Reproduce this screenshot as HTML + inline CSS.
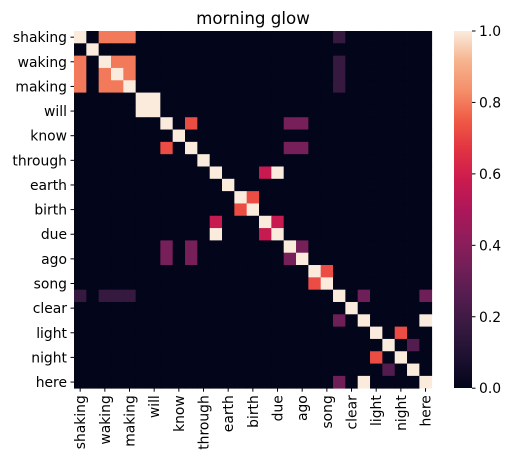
<!DOCTYPE html>
<html><head><meta charset="utf-8"><style>
body{margin:0;background:#fff;font-family:"DejaVu Sans",sans-serif}
</style></head><body>
<svg id="chart" width="513" height="463" xmlns="http://www.w3.org/2000/svg" font-family="DejaVu Sans, sans-serif">
<defs>
<linearGradient id="rocket" x1="0" y1="1" x2="0" y2="0">
<stop offset="0" stop-color="#03051a"/><stop offset="0.083" stop-color="#1c1030"/><stop offset="0.167" stop-color="#35193e"/>
<stop offset="0.25" stop-color="#521c4f"/><stop offset="0.333" stop-color="#701f57"/><stop offset="0.417" stop-color="#8f1d5b"/>
<stop offset="0.5" stop-color="#ad1759"/><stop offset="0.583" stop-color="#cb1b4f"/><stop offset="0.667" stop-color="#e13342"/>
<stop offset="0.75" stop-color="#f05a45"/><stop offset="0.833" stop-color="#f48f6a"/><stop offset="0.917" stop-color="#f6b48f"/>
<stop offset="1" stop-color="#faebdd"/></linearGradient>
</defs>
<text x="253" y="24" font-size="16.7" text-anchor="middle" fill="#000">morning glow</text>
<g id="cells"></g>
<g id="axes"></g>
<rect x="454" y="31" width="18" height="357" fill="url(#rocket)"/>
<g id="cbar"></g>
</svg>
<script>
const labels = ["shaking","","waking","","making","","will","","know","","through","","earth","","birth","","due","","ago","","song","","clear","","light","","night","","here"];
const cbTicks = [0,0.2,0.4,0.6,0.8,1.0];
// sparse entries [row, col, value]
const entries = [
[0,0,1],[0,2,0.8],[0,3,0.8],[0,4,0.8],[0,21,0.17],
[1,1,1],
[2,0,0.8],[2,2,1],[2,3,0.8],[2,4,0.8],[2,21,0.17],
[3,0,0.8],[3,2,0.8],[3,3,1],[3,4,0.8],[3,21,0.17],
[4,0,0.8],[4,2,0.8],[4,3,0.8],[4,4,1],[4,21,0.17],
[5,5,1],[5,6,1],[6,5,1],[6,6,1],
[7,7,1],[7,9,0.72],[7,17,0.35],[7,18,0.35],
[8,8,1],
[9,7,0.72],[9,9,1],[9,17,0.35],[9,18,0.35],
[10,10,1],
[11,11,1],[11,15,0.57],[11,16,1],
[12,12,1],
[13,13,1],[13,14,0.72],[14,13,0.72],[14,14,1],
[15,11,0.57],[15,15,1],[15,16,0.57],
[16,11,1],[16,15,0.57],[16,16,1],
[17,7,0.35],[17,9,0.35],[17,17,1],[17,18,0.35],
[18,7,0.35],[18,9,0.35],[18,17,0.35],[18,18,1],
[19,19,1],[19,20,0.72],[20,19,0.72],[20,20,1],
[21,0,0.17],[21,2,0.17],[21,3,0.17],[21,4,0.17],[21,21,1],[21,23,0.33],[21,28,0.33],
[22,22,1],
[23,21,0.33],[23,23,1],[23,28,1],
[24,24,1],[24,26,0.72],
[25,25,1],[25,27,0.25],
[26,24,0.72],[26,26,1],
[27,25,0.25],[27,27,1],
[28,21,0.33],[28,23,1],[28,28,1]
];
const N = 29, X0 = 74, Y0 = 31, W = 357.7, H = 357.2;
const cw = W/N, ch = H/N;
const stops = [[0,"#03051a"],[0.083,"#1c1030"],[0.167,"#35193e"],[0.25,"#521c4f"],[0.333,"#701f57"],[0.417,"#8f1d5b"],[0.5,"#ad1759"],[0.583,"#cb1b4f"],[0.667,"#e13342"],[0.75,"#f05a45"],[0.833,"#f48f6a"],[0.917,"#f6b48f"],[1,"#faebdd"]];
function hex(h){return [1,3,5].map(i=>parseInt(h.substr(i,2),16));}
function color(v){for(let i=1;i<stops.length;i++){if(v<=stops[i][0]){const a=stops[i-1],b=stops[i];const t=(v-a[0])/(b[0]-a[0]);const ca=hex(a[1]),cb=hex(b[1]);return "rgb("+ca.map((c,k)=>Math.round(c+(cb[k]-c)*t)).join(",")+")";}}return stops[stops.length-1][1];}
const ns="http://www.w3.org/2000/svg";
const xs = c => X0 + c*cw, ys = r => Y0 + r*ch;
const cells=document.getElementById("cells");
const m=Array.from({length:N},()=>Array(N).fill(0));
entries.forEach(e=>{m[e[0]][e[1]]=e[2];});
for(let r=0;r<N;r++)for(let c=0;c<N;c++){
 const el=document.createElementNS(ns,"rect");
 
 
 el.setAttribute("x",xs(c));el.setAttribute("y",ys(r));el.setAttribute("width",cw+0.4);el.setAttribute("height",ch+0.4);
 el.setAttribute("fill",color(m[r][c]));cells.appendChild(el);
}
const axes=document.getElementById("axes");
labels.forEach((l,i)=>{
 if(!l) return;
 const y=ys(i)+ch/2, x=xs(i)+cw/2;
 const t=document.createElementNS(ns,"line");
 
 
 t.setAttribute("x1",X0-3.5);t.setAttribute("x2",X0);t.setAttribute("y1",y);t.setAttribute("y2",y);t.setAttribute("stroke","#000");axes.appendChild(t);
 const tx=document.createElementNS(ns,"text");
 
 
 tx.setAttribute("x",X0-7);tx.setAttribute("y",y+5);tx.setAttribute("text-anchor","end");tx.setAttribute("font-size","13.9");tx.textContent=l;axes.appendChild(tx);
 const t2=document.createElementNS(ns,"line");
 
 
 t2.setAttribute("x1",x);t2.setAttribute("x2",x);t2.setAttribute("y1",Y0+H);t2.setAttribute("y2",Y0+H+3.5);t2.setAttribute("stroke","#000");axes.appendChild(t2);
 const tx2=document.createElementNS(ns,"text");
 
 
 tx2.setAttribute("transform","translate("+(x+5)+","+(Y0+H+7)+") rotate(-90)");tx2.setAttribute("text-anchor","end");tx2.setAttribute("font-size","13.9");tx2.textContent=l;axes.appendChild(tx2);
});
const cbar=document.getElementById("cbar");
cbTicks.forEach(v=>{
 const y=Y0+H-v*H;
 const t=document.createElementNS(ns,"line");
 
 
 t.setAttribute("x1",472);t.setAttribute("x2",475.5);t.setAttribute("y1",y);t.setAttribute("y2",y);t.setAttribute("stroke","#000");cbar.appendChild(t);
 const tx=document.createElementNS(ns,"text");
 
 
 tx.setAttribute("x",479);tx.setAttribute("y",y+5);tx.setAttribute("font-size","13.9");tx.textContent=v.toFixed(1);cbar.appendChild(tx);
});
</script>
</body></html>
